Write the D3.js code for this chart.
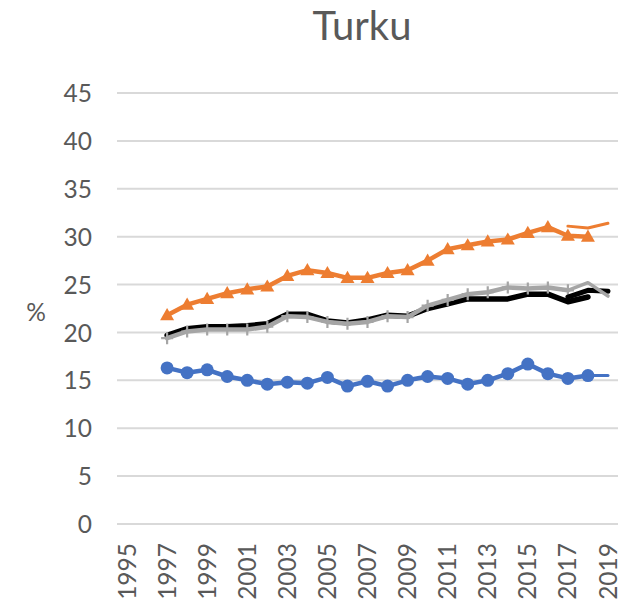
<!DOCTYPE html>
<html><head><meta charset="utf-8">
<script src="https://cdn.jsdelivr.net/npm/d3@7"></script>
<style>
html,body{margin:0;padding:0;background:#fff;}
svg{display:block;}
text{font-family:Lato,"Open Sans",sans-serif;fill:#595959;}
</style></head>
<body><svg id="c" width="626" height="606"></svg>
<script>
const title = "Turku";
const yLabel = "%";
const years = [1995,1996,1997,1998,1999,2000,2001,2002,2003,2004,2005,2006,2007,2008,2009,2010,2011,2012,2013,2014,2015,2016,2017,2018,2019];
const xTickLabels = [1995,1997,1999,2001,2003,2005,2007,2009,2011,2013,2015,2017,2019];
const yTicks = [0,5,10,15,20,25,30,35,40,45];

const orangeYears = [1997,1998,1999,2000,2001,2002,2003,2004,2005,2006,2007,2008,2009,2010,2011,2012,2013,2014,2015,2016,2017,2018];
const orangeValues = [21.8,22.9,23.5,24.1,24.5,24.8,25.9,26.5,26.2,25.7,25.7,26.2,26.5,27.5,28.7,29.1,29.5,29.7,30.4,31.0,30.1,30.0];
const orangeTailYears = [2017,2018,2019];
const orangeTailValues = [31.1,30.9,31.4];

const grayYears = [1997,1998,1999,2000,2001,2002,2003,2004,2005,2006,2007,2008,2009,2010,2011,2012,2013,2014,2015,2016,2017];
const grayValues = [19.4,20.1,20.3,20.3,20.3,20.6,21.7,21.6,21.1,20.9,21.1,21.7,21.6,22.8,23.4,24.0,24.2,24.7,24.6,24.7,24.4];
const grayTailYears = [2017,2018,2019];
const grayTailValues = [24.4,25.2,23.8];

const blackYears = [1997,1998,1999,2000,2001,2002,2003,2004,2005,2006,2007,2008,2009,2010,2011,2012,2013,2014,2015,2016,2017,2018];
const blackValues = [19.7,20.4,20.6,20.6,20.7,20.9,21.9,21.9,21.2,21.0,21.3,21.8,21.7,22.5,23.0,23.5,23.5,23.5,24.0,24.0,23.2,23.7];
const blackTailYears = [2017,2018,2019];
const blackTailValues = [23.7,24.4,24.3];

const blueYears = [1997,1998,1999,2000,2001,2002,2003,2004,2005,2006,2007,2008,2009,2010,2011,2012,2013,2014,2015,2016,2017,2018];
const blueValues = [16.3,15.8,16.1,15.4,15.0,14.6,14.8,14.7,15.3,14.4,14.9,14.4,15.0,15.4,15.2,14.6,15.0,15.7,16.7,15.7,15.2,15.5];
const blueTailYears = [2018,2019];
const blueTailValues = [15.5,15.5];

const svg = d3.select("#c");
const x = d3.scaleBand().domain(years).range([117,618]);
const cx = d => x(d) + x.bandwidth()/2;
const y = d3.scaleLinear().domain([0,45]).range([524,93]);

// title
svg.append("text").attr("x",362).attr("y",40).attr("text-anchor","middle")
  .style("font-size","40px").text(title);

// gridlines
svg.append("g").selectAll("line").data(yTicks).join("line")
  .attr("x1",117).attr("x2",618).attr("y1",d=>y(d)).attr("y2",d=>y(d))
  .attr("stroke","#d9d9d9").attr("stroke-width",2);

// y axis labels
const yAxis = d3.axisLeft(y).tickValues(yTicks).tickSize(0).tickPadding(0);
const gy = svg.append("g").attr("transform","translate(92,0)").call(yAxis);
gy.select(".domain").remove();
gy.selectAll("text").style("font-size","24.5px").style("font-family","Lato").attr("fill","#595959").attr("dy","0.35em");

svg.append("text").attr("x",36).attr("y",312).attr("text-anchor","middle")
  .attr("dy","0.35em").style("font-size","24.5px").text(yLabel);

// x labels
svg.append("g").selectAll("text").data(xTickLabels).join("text")
  .attr("transform",d=>`translate(${cx(d)},543) rotate(-90)`)
  .attr("text-anchor","end").attr("dy","0.35em")
  .style("font-size","24.5px").text(d=>d);

const line = d3.line().x(d=>cx(d[0])).y(d=>y(d[1]));
const zip = (a,b) => a.map((v,i)=>[v,b[i]]);

function drawLine(ys, vs, color, w){
  svg.append("path").datum(zip(ys,vs)).attr("d",line)
    .attr("fill","none").attr("stroke",color).attr("stroke-width",w)
    .attr("stroke-linejoin","round").attr("stroke-linecap","round");
}

// black
drawLine(blackYears, blackValues, "#000000", 5.5);
// gray
drawLine(grayYears, grayValues, "#a5a5a5", 4.5);
svg.append("g").selectAll("path").data(zip(grayYears, grayValues)).join("path")
  .attr("transform",d=>`translate(${cx(d[0])},${y(d[1])})`)
  .attr("d","M-6,0H6M0,-6V6").attr("stroke","#a5a5a5").attr("stroke-width",2.2).attr("fill","none");
drawLine(blackTailYears, blackTailValues, "#000000", 5);
drawLine(grayTailYears, grayTailValues, "#a5a5a5", 3.5);

// orange
drawLine(orangeYears, orangeValues, "#ed7d31", 4.5);
const tri = d3.symbol().type(d3.symbolTriangle).size(85);
svg.append("g").selectAll("path").data(zip(orangeYears, orangeValues)).join("path")
  .attr("transform",d=>`translate(${cx(d[0])},${y(d[1])+1})`)
  .attr("d",tri).attr("fill","#ed7d31");
drawLine(orangeTailYears, orangeTailValues, "#ed7d31", 3);

// blue
drawLine(blueYears, blueValues, "#4472c4", 4.5);
svg.append("g").selectAll("circle").data(zip(blueYears, blueValues)).join("circle")
  .attr("cx",d=>cx(d[0])).attr("cy",d=>y(d[1])).attr("r",6.5).attr("fill","#4472c4");
drawLine(blueTailYears, blueTailValues, "#4472c4", 3);
</script></body></html>
